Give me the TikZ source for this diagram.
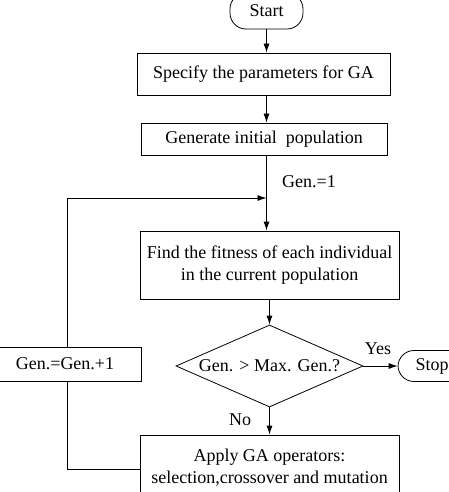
\documentclass[tikz,border=0pt]{standalone}
\usepackage{fontspec}
\setmainfont{Liberation Serif}
\usetikzlibrary{shapes.geometric,arrows.meta}
\begin{document}
\begin{tikzpicture}[x=1pt,y=-1pt,
  every node/.style={font=\fontsize{18}{22}\selectfont, inner sep=0pt},
  box/.style={draw, line width=0.8pt, align=center},
  term/.style={draw, line width=0.8pt, rounded corners=16pt},
  dec/.style={draw, line width=0.8pt, diamond, aspect=2.3},
  arr/.style={line width=0.8pt, -{Latex[length=9pt,width=6pt]}},
  ln/.style={line width=0.8pt}]
\useasboundingbox (0,0) rectangle (449,492);
\clip (0,0) rectangle (449,492);
\node[term, minimum width=73pt, minimum height=36pt] (start) at (266.5,11) {Start};
\node[box, minimum width=253pt, minimum height=42pt] (spec) at (263.5,74) {Specify the parameters for GA};
\node[box, minimum width=246pt, minimum height=32pt] (gen) at (264,139) {Generate initial\ \ population};
\node[box, minimum width=259pt, minimum height=68pt] (fit) at (269.5,265) {Find the fitness of each individual\\in the current population};
\node[dec, minimum width=187pt, minimum height=82pt] (dec) at (269.5,366) {Gen. > Max. Gen.?};
\node[term, minimum width=68pt, minimum height=31pt] (stop) at (432,366) {Stop};
\node[box, minimum width=152pt, minimum height=34pt] (inc) at (65,364) {Gen.=Gen.+1};
\node[box, minimum width=259pt, minimum height=66pt] (apply) at (269.5,468) {Apply GA operators:\\selection,crossover and mutation};
\coordinate (m) at (266.5,198);
\coordinate (lt) at (67,198);
\coordinate (lb) at (67,469);
\draw[arr] (start.south) -- (start.south |- spec.north);
\draw[arr] (spec.south -| start.south) -- (start.south |- gen.north);
\draw[ln] (gen.south -| m) -- (m);
\draw[arr] (m) -- (m |- fit.north);
\node[anchor=west] (g1) at (282,182) {Gen.=1};
\draw[arr] (lt) -- (m);
\draw[ln] (lt) -- (lt |- inc.north);
\draw[ln] (lt |- inc.south) -- (lb) -- (lb -| apply.west);
\draw[arr] (fit.south -| dec.north) -- (dec.north);
\draw[arr] (dec.east) -- (stop.west);
\node (yes) at (378,349) {Yes};
\draw[arr] (dec.south) -- (dec.south |- apply.north);
\node (no) at (240,420) {No};
\end{tikzpicture}
\end{document}
